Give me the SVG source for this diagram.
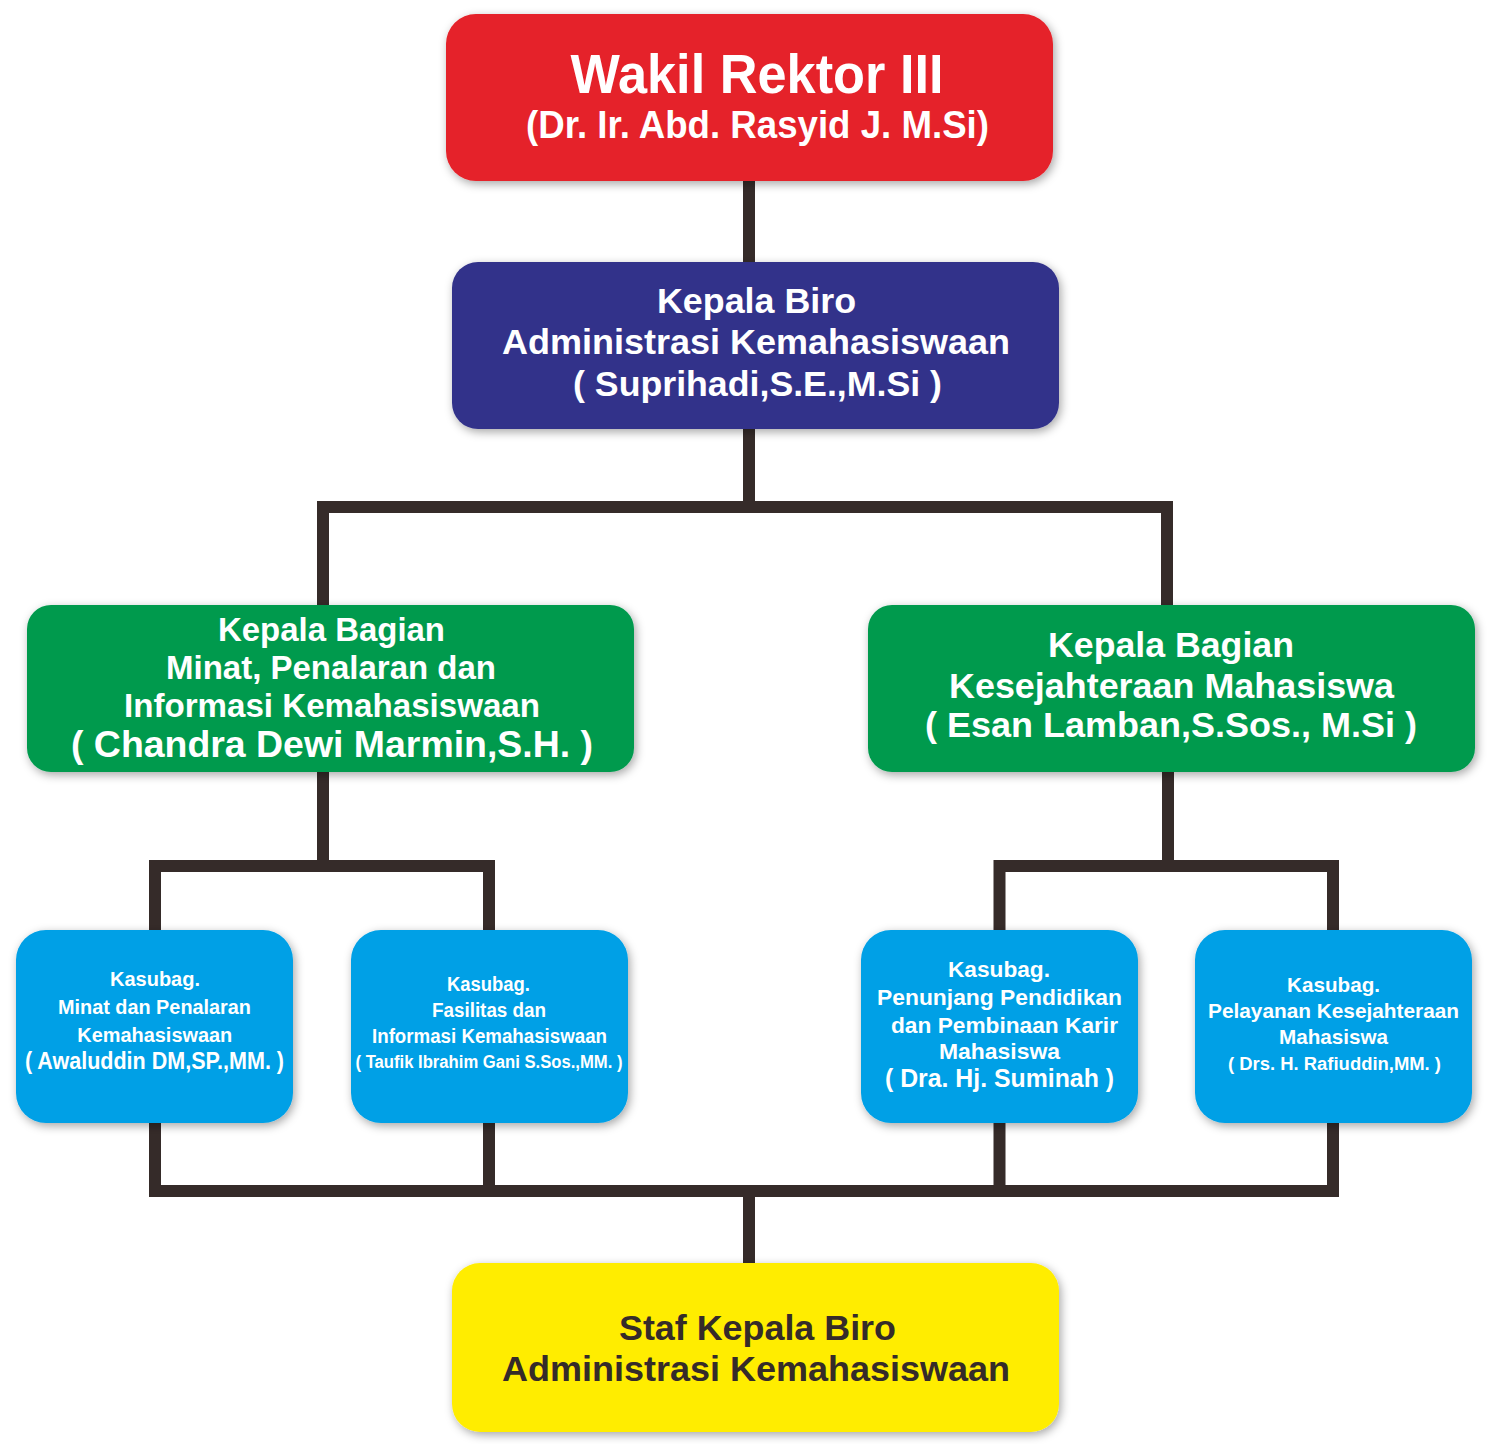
<svg xmlns="http://www.w3.org/2000/svg" width="1489" height="1444" viewBox="0 0 1489 1444">
<defs>
<filter id="sh" x="-10%" y="-20%" width="120%" height="140%">
<feDropShadow dx="2" dy="3" stdDeviation="5" flood-color="#000" flood-opacity="0.35"/>
</filter>
<style>
.box{filter:url(#sh);}
.t{font-family:"Liberation Sans",Arial,sans-serif;font-weight:bold;text-anchor:middle;fill:#fff;}
.dk{fill:#352b29;}
.con{fill:none;stroke:#352b29;stroke-width:12;stroke-linejoin:miter;stroke-linecap:butt;}
</style>
</defs>
<rect width="1489" height="1444" fill="#fff"/>
<g id="connectors">
<path class="con" d="M749 181 V262"/>
<path class="con" d="M749 429 V507"/>
<path class="con" d="M323 605 V507 H1167 V605"/>
<path class="con" d="M323 772 V866"/>
<path class="con" d="M155 930 V866 H489 V930"/>
<path class="con" d="M1168 772 V866"/>
<path class="con" d="M999.5 930 V866 H1333 V930"/>
<path class="con" d="M155 1123 V1191 H1333 V1123"/>
<path class="con" d="M489 1123 V1191"/>
<path class="con" d="M999.5 1123 V1191"/>
<path class="con" d="M749 1191 V1263"/>
</g>
<g id="wakil">
<rect class="box" x="446" y="14" width="607" height="167" rx="30" fill="#e52229"/>
<text class="t" x="757" y="93" font-size="56" textLength="373" lengthAdjust="spacingAndGlyphs">Wakil Rektor III</text>
<text class="t" x="757.5" y="138" font-size="39" textLength="463" lengthAdjust="spacingAndGlyphs">(Dr. Ir. Abd. Rasyid J. M.Si)</text>
</g>
<g id="kepala-biro">
<rect class="box" x="452" y="262" width="607" height="167" rx="26" fill="#32338a"/>
<text class="t" x="756.5" y="313" font-size="35" textLength="199" lengthAdjust="spacingAndGlyphs">Kepala Biro</text>
<text class="t" x="756" y="354" font-size="35" textLength="508" lengthAdjust="spacingAndGlyphs">Administrasi Kemahasiswaan</text>
<text class="t" x="757.5" y="396" font-size="35" textLength="369" lengthAdjust="spacingAndGlyphs">( Suprihadi,S.E.,M.Si )</text>
</g>
<g id="bagian-minat">
<rect class="box" x="27" y="605" width="607" height="167" rx="24" fill="#009a4e"/>
<text class="t" x="331.5" y="641" font-size="33" textLength="227" lengthAdjust="spacingAndGlyphs">Kepala Bagian</text>
<text class="t" x="331" y="679" font-size="33" textLength="330" lengthAdjust="spacingAndGlyphs">Minat, Penalaran dan</text>
<text class="t" x="332" y="717" font-size="33" textLength="416" lengthAdjust="spacingAndGlyphs">Informasi Kemahasiswaan</text>
<text class="t" x="332" y="757" font-size="37" textLength="522" lengthAdjust="spacingAndGlyphs">( Chandra Dewi Marmin,S.H. )</text>
</g>
<g id="bagian-kesejahteraan">
<rect class="box" x="868" y="605" width="607" height="167" rx="24" fill="#009a4e"/>
<text class="t" x="1171" y="657" font-size="35" textLength="246" lengthAdjust="spacingAndGlyphs">Kepala Bagian</text>
<text class="t" x="1171.5" y="698" font-size="35" textLength="445" lengthAdjust="spacingAndGlyphs">Kesejahteraan Mahasiswa</text>
<text class="t" x="1171" y="737" font-size="35" textLength="492" lengthAdjust="spacingAndGlyphs">( Esan Lamban,S.Sos., M.Si )</text>
</g>
<g id="kasubag-minat">
<rect class="box" x="16" y="930" width="277" height="193" rx="30" fill="#00a0e6"/>
<text class="t" x="155" y="986" font-size="20" textLength="90" lengthAdjust="spacingAndGlyphs">Kasubag.</text>
<text class="t" x="154.5" y="1014" font-size="20" textLength="193" lengthAdjust="spacingAndGlyphs">Minat dan Penalaran</text>
<text class="t" x="154.8" y="1042" font-size="20" textLength="155" lengthAdjust="spacingAndGlyphs">Kemahasiswaan</text>
<text class="t" x="154.5" y="1069" font-size="24" textLength="259" lengthAdjust="spacingAndGlyphs">( Awaluddin DM,SP.,MM. )</text>
</g>
<g id="kasubag-fasilitas">
<rect class="box" x="351" y="930" width="277" height="193" rx="30" fill="#00a0e6"/>
<text class="t" x="488.5" y="991" font-size="20" textLength="83" lengthAdjust="spacingAndGlyphs">Kasubag.</text>
<text class="t" x="489" y="1017" font-size="20" textLength="114" lengthAdjust="spacingAndGlyphs">Fasilitas dan</text>
<text class="t" x="489.5" y="1043" font-size="20" textLength="235" lengthAdjust="spacingAndGlyphs">Informasi Kemahasiswaan</text>
<text class="t" x="489" y="1068" font-size="18" textLength="267" lengthAdjust="spacingAndGlyphs">( Taufik Ibrahim Gani S.Sos.,MM. )</text>
</g>
<g id="kasubag-penunjang">
<rect class="box" x="861" y="930" width="277" height="193" rx="30" fill="#00a0e6"/>
<text class="t" x="999" y="977" font-size="22" textLength="102" lengthAdjust="spacingAndGlyphs">Kasubag.</text>
<text class="t" x="999.5" y="1005" font-size="22" textLength="245" lengthAdjust="spacingAndGlyphs">Penunjang Pendidikan</text>
<text class="t" x="1004.5" y="1033" font-size="22" textLength="227" lengthAdjust="spacingAndGlyphs">dan Pembinaan Karir</text>
<text class="t" x="999.5" y="1059" font-size="22" textLength="121" lengthAdjust="spacingAndGlyphs">Mahasiswa</text>
<text class="t" x="999.5" y="1087" font-size="26" textLength="229" lengthAdjust="spacingAndGlyphs">( Dra. Hj. Suminah )</text>
</g>
<g id="kasubag-pelayanan">
<rect class="box" x="1195" y="930" width="277" height="193" rx="30" fill="#00a0e6"/>
<text class="t" x="1333.5" y="992" font-size="21" textLength="93" lengthAdjust="spacingAndGlyphs">Kasubag.</text>
<text class="t" x="1333.5" y="1018" font-size="21" textLength="251" lengthAdjust="spacingAndGlyphs">Pelayanan Kesejahteraan</text>
<text class="t" x="1333.5" y="1044" font-size="21" textLength="109" lengthAdjust="spacingAndGlyphs">Mahasiswa</text>
<text class="t" x="1334.5" y="1070" font-size="18" textLength="213" lengthAdjust="spacingAndGlyphs">( Drs. H. Rafiuddin,MM. )</text>
</g>
<g id="staf">
<rect class="box" x="452" y="1263" width="607" height="169" rx="28" fill="#ffed00"/>
<text class="t dk" x="757.5" y="1340" font-size="35" textLength="277" lengthAdjust="spacingAndGlyphs">Staf Kepala Biro</text>
<text class="t dk" x="756" y="1381" font-size="35" textLength="508" lengthAdjust="spacingAndGlyphs">Administrasi Kemahasiswaan</text>
</g>
</svg>
